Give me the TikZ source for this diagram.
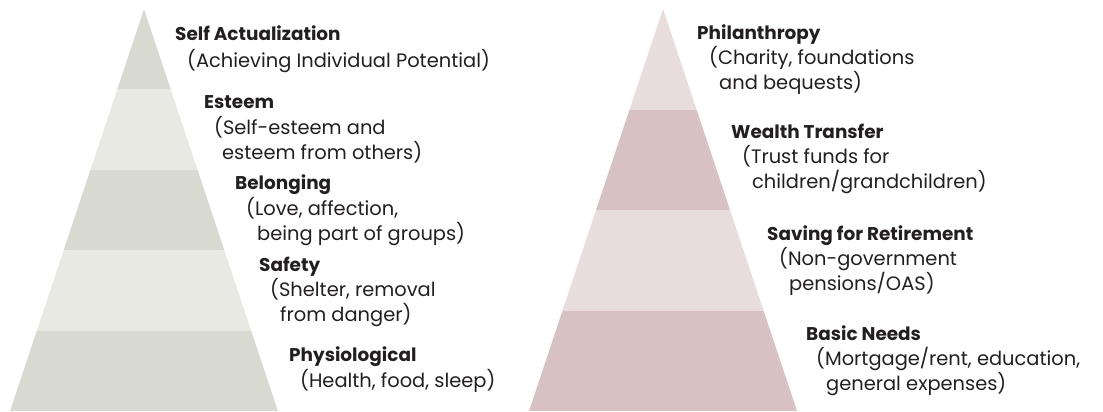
\documentclass[tikz,border=0pt]{standalone}
\usepackage{fontspec}
\setmainfont{Poppins}
\definecolor{ink}{HTML}{231F20}
\definecolor{sageDark}{HTML}{D8D9D0}
\definecolor{sageLight}{HTML}{E8E9E2}
\definecolor{roseDark}{HTML}{D8C1C2}
\definecolor{roseLight}{HTML}{E8DCDD}
\tikzset{
  level/.style  = {anchor=west, inner sep=0pt, text=ink,
                   text height=1.5ex, text depth=.3ex},
  heading/.style = {level, font=\bfseries\fontsize{18.5}{22}\selectfont},
  detail/.style  = {level, font=\fontsize{19.5}{23}\selectfont}
}

\begin{document}
\begin{tikzpicture}[x=1bp, y=-1bp]
  \useasboundingbox (0,0) rectangle (1103,411);

  % needs pyramid, five bands
  \begin{scope}
    \clip (144,9) -- (278,411) -- (10,411) -- cycle;
    \foreach \i/\col in {0/sageDark, 1/sageLight, 2/sageDark, 3/sageLight, 4/sageDark}
      \fill[\col] (0,9+80.4*\i) rectangle (300,9+80.4*\i+80.4);
  \end{scope}

  % money pyramid, four bands
  \begin{scope}
    \clip (663,9) -- (797,411) -- (529,411) -- cycle;
    \foreach \i/\col in {0/roseLight, 1/roseDark, 2/roseLight, 3/roseDark}
      \fill[\col] (520,9+100.5*\i) rectangle (820,9+100.5*\i+100.5);
  \end{scope}

  % labels for the needs pyramid
  \node[heading] (selfact)  at (175,37)  {Self Actualization};
  \node[detail]  (selfact1) at (187,64)  {(Achieving Individual Potential)};
  \node[heading] (esteem)   at (204,105) {Esteem};
  \node[detail]  (esteem1)  at (214,131) {(Self-esteem and};
  \node[detail]  (esteem2)  at (222,156) {esteem from others)};
  \node[heading] (belong)   at (235,186) {Belonging};
  \node[detail]  (belong1)  at (246,212) {(Love, affection,};
  \node[detail]  (belong2)  at (257,237) {being part of groups)};
  \node[heading] (safety)   at (259,268) {Safety};
  \node[detail]  (safety1)  at (270,293) {(Shelter, removal};
  \node[detail]  (safety2)  at (280,318) {from danger)};
  \node[heading] (physio)   at (289,358) {Physiological};
  \node[detail]  (physio1)  at (300,384) {(Health, food, sleep)};

  % labels for the money pyramid
  \node[heading] (phil)     at (697,36)  {Philanthropy};
  \node[detail]  (phil1)    at (709,61)  {(Charity, foundations};
  \node[detail]  (phil2)    at (719,86)  {and bequests)};
  \node[heading] (wealth)   at (731,135) {Wealth Transfer};
  \node[detail]  (wealth1)  at (742,160) {(Trust funds for};
  \node[detail]  (wealth2)  at (752,185) {children/grandchildren)};
  \node[heading] (saving)   at (767,237) {Saving for Retirement};
  \node[detail]  (saving1)  at (779,262) {(Non-government};
  \node[detail]  (saving2)  at (789,287) {pensions/OAS)};
  \node[heading] (basic)    at (806,337) {Basic Needs};
  \node[detail]  (basic1)   at (816,362) {(Mortgage/rent, education,};
  \node[detail]  (basic2)   at (826,387) {general expenses)};
\end{tikzpicture}
\end{document}
